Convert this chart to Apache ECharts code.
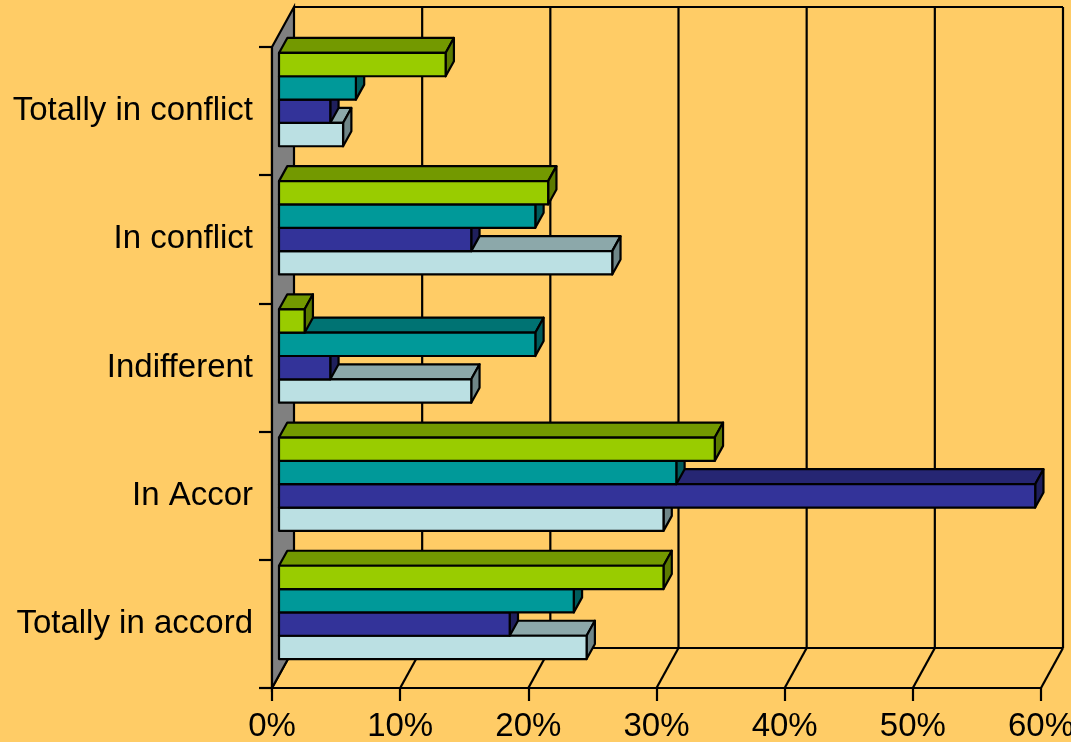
<!DOCTYPE html>
<html>
<head>
<meta charset="utf-8">
<script src="https://cdn.jsdelivr.net/npm/echarts@6/dist/echarts.min.js"></script>
<style>
  html, body { margin: 0; padding: 0; background: #FFCC66; }
  #chart { width: 1071px; height: 742px; }
</style>
</head>
<body>
<div id="chart"></div>
<script>
// Categories, bottom to top
const categories = ['Totally in accord', 'In Accor', 'Indifferent', 'In conflict', 'Totally in conflict'];
// Series (drawn bottom to top within each group)
const seriesNames = ['Series 1', 'Series 2', 'Series 3', 'Series 4'];
const series1 = [24, 30, 15, 26, 5];   // light blue
const series2 = [18, 59, 4, 15, 4];    // dark blue
const series3 = [23, 31, 20, 20, 6];   // teal
const series4 = [30, 34, 2, 21, 13];   // green
const xTicks = [0, 10, 20, 30, 40, 50, 60];

const seriesValues = [series1, series2, series3, series4];
const faceColors = [
  { front: '#BBE0E3', top: '#8CA8AA', side: '#6F8688' },
  { front: '#333399', top: '#262673', side: '#1F1F5C' },
  { front: '#009999', top: '#007373', side: '#005C5C' },
  { front: '#99CC00', top: '#739900', side: '#5C7A00' }
];

const WALL_DX = 22, WALL_DY = -40;
const GX = 7, GY = -11.5;      // bar placement depth within box
const BDX = 8.3, BDY = -15;    // bar thickness (depth)
const BAR_FRAC = 0.182;

function barRenderer(si) {
  return function (params, api) {
    const v = api.value(0), cat = api.value(1);
    const c = api.coord([v, cat]);
    const c0 = api.coord([0, cat]);
    const band = api.size([0, 1])[1];
    const bh = band * BAR_FRAC;
    const x0 = c0[0] + GX, x1 = c[0] + GX;
    const yc = c[1] + GY + (1.5 - si) * bh;
    const yT = yc - bh / 2, yB = yc + bh / 2;
    const col = faceColors[si];
    const st = { stroke: '#000', lineWidth: 2.2, lineJoin: 'round' };
    return {
      type: 'group',
      children: [
        { type: 'polygon', shape: { points: [[x0, yT], [x1, yT], [x1 + BDX, yT + BDY], [x0 + BDX, yT + BDY]] },
          style: Object.assign({ fill: col.top }, st) },
        { type: 'polygon', shape: { points: [[x1, yT], [x1 + BDX, yT + BDY], [x1 + BDX, yB + BDY], [x1, yB]] },
          style: Object.assign({ fill: col.side }, st) },
        { type: 'rect', shape: { x: x0, y: yT, width: x1 - x0, height: bh },
          style: Object.assign({ fill: col.front }, st) }
      ]
    };
  };
}

function wallRenderer(params, api) {
  const cs = params.coordSys;
  const x0 = cs.x, y0 = cs.y, w = cs.width, h = cs.height;
  const ln = { stroke: '#000', lineWidth: 2.2 };
  const children = [];
  const xs = xTicks.map(t => api.coord([t, 0])[0]);
  xs.forEach((x, k) => {
    if (k > 0) children.push({ type: 'line', shape: { x1: x + WALL_DX, y1: y0 + WALL_DY, x2: x + WALL_DX, y2: y0 + h + WALL_DY }, style: ln });
  });
  children.push({ type: 'line', shape: { x1: x0 + WALL_DX, y1: y0 + WALL_DY, x2: x0 + w + WALL_DX, y2: y0 + WALL_DY }, style: ln });
  children.push({ type: 'line', shape: { x1: x0 + WALL_DX, y1: y0 + h + WALL_DY, x2: x0 + w + WALL_DX, y2: y0 + h + WALL_DY }, style: ln });
  xs.forEach(x => {
    children.push({ type: 'line', shape: { x1: x, y1: y0 + h, x2: x + WALL_DX, y2: y0 + h + WALL_DY }, style: ln });
  });
  children.push({ type: 'polygon', shape: { points: [[x0, y0], [x0 + WALL_DX, y0 + WALL_DY], [x0 + WALL_DX, y0 + h + WALL_DY], [x0, y0 + h]] },
    style: { fill: '#808080', stroke: '#000', lineWidth: 2.2 } });
  return { type: 'group', children: children };
}

const chart = echarts.init(document.getElementById('chart'), null, { renderer: 'canvas' });
const font = "'Liberation Sans', Arial, sans-serif";

const series = [{
  type: 'custom',
  name: 'walls',
  renderItem: wallRenderer,
  data: [[0, 0]],
  z: 1,
  silent: true
}];
seriesValues.forEach((vals, si) => {
  series.push({
    type: 'custom',
    name: seriesNames[si],
    renderItem: barRenderer(si),
    encode: { x: 0, y: 1 },
    data: vals.map((v, i) => [v, i]),
    z: 2 + si
  });
});

chart.setOption({
  backgroundColor: '#FFCC66',
  animation: false,
  grid: { left: 272, right: 30, top: 47, bottom: 54, containLabel: false, outerBoundsMode: 'none' },
  xAxis: {
    type: 'value', min: 0, max: 60, interval: 10,
    axisLine: { show: true, lineStyle: { color: '#000', width: 2.2 } },
    axisTick: { show: true, length: 13, lineStyle: { color: '#000', width: 2.2 } },
    splitLine: { show: false },
    axisLabel: { formatter: '{value}%', fontSize: 33, color: '#000', fontFamily: font, margin: 22, hideOverlap: false }
  },
  yAxis: {
    type: 'category', data: categories,
    axisLine: { show: true, lineStyle: { color: '#000', width: 2.2 } },
    axisTick: { show: true, length: 13, lineStyle: { color: '#000', width: 2.2 } },
    splitLine: { show: false },
    axisLabel: { fontSize: 33, color: '#000', fontFamily: font, margin: 19 }
  },
  series: series
});
</script>
</body>
</html>
